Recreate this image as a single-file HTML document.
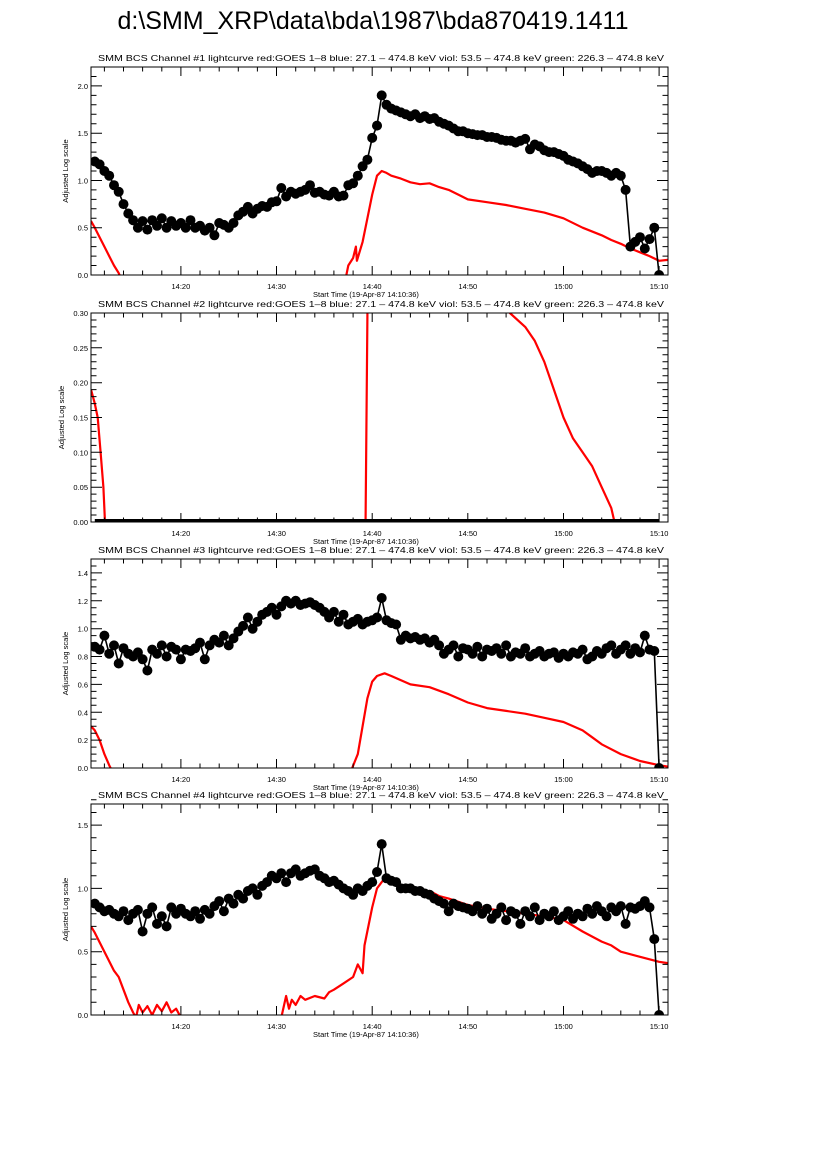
<!DOCTYPE html>
<html><head><meta charset="utf-8"><style>
html,body{margin:0;padding:0;background:#fff;}
svg{display:block;font-family:"Liberation Sans",sans-serif;}
</style></head><body>
<svg id="fig" width="826" height="1169" viewBox="0 0 826 1169">
<rect width="826" height="1169" fill="#fff"/>
<text x="373" y="29" font-size="25" text-anchor="middle">d:\SMM_XRP\data\bda\1987\bda870419.1411</text>
</svg>
<script>
// time in minutes after 14:00
const xTickLabels = ["14:20","14:30","14:40","14:50","15:00","15:10"];
const xTickTimes = [20,30,40,50,60,70];
const blackTimes = [11,11.5,12,12.5,13,13.5,14,14.5,15,15.5,16,16.5,17,17.5,18,18.5,19,19.5,20,20.5,21,21.5,22,22.5,23,23.5,24,24.5,25,25.5,26,26.5,27,27.5,28,28.5,29,29.5,30,30.5,31,31.5,32,32.5,33,33.5,34,34.5,35,35.5,36,36.5,37,37.5,38,38.5,39,39.5,40,40.5,41,41.5,42,42.5,43,43.5,44,44.5,45,45.5,46,46.5,47,47.5,48,48.5,49,49.5,50,50.5,51,51.5,52,52.5,53,53.5,54,54.5,55,55.5,56,56.5,57,57.5,58,58.5,59,59.5,60,60.5,61,61.5,62,62.5,63,63.5,64,64.5,65,65.5,66,66.5,67,67.5,68,68.5,69,69.5,70];
const black1 = [1.2,1.17,1.1,1.05,0.95,0.88,0.75,0.65,0.58,0.5,0.57,0.48,0.58,0.52,0.6,0.5,0.57,0.52,0.55,0.5,0.58,0.5,0.52,0.47,0.5,0.42,0.55,0.53,0.5,0.55,0.63,0.67,0.72,0.65,0.7,0.73,0.72,0.77,0.78,0.92,0.83,0.88,0.86,0.88,0.9,0.95,0.87,0.88,0.85,0.84,0.88,0.83,0.84,0.95,0.97,1.05,1.15,1.22,1.45,1.58,1.9,1.8,1.76,1.74,1.72,1.7,1.68,1.7,1.66,1.68,1.65,1.66,1.62,1.6,1.58,1.55,1.52,1.52,1.5,1.49,1.48,1.48,1.46,1.46,1.45,1.43,1.42,1.42,1.4,1.42,1.44,1.33,1.38,1.36,1.32,1.3,1.3,1.28,1.26,1.22,1.2,1.18,1.15,1.12,1.08,1.1,1.1,1.08,1.05,1.08,1.05,0.9,0.3,0.35,0.4,0.28,0.38,0.5,0.0];
const black2 = [0,0,0,0,0,0,0,0,0,0,0,0,0,0,0,0,0,0,0,0,0,0,0,0,0,0,0,0,0,0,0,0,0,0,0,0,0,0,0,0,0,0,0,0,0,0,0,0,0,0,0,0,0,0,0,0,0,0,0,0,0,0,0,0,0,0,0,0,0,0,0,0,0,0,0,0,0,0,0,0,0,0,0,0,0,0,0,0,0,0,0,0,0,0,0,0,0,0,0,0,0,0,0,0,0,0,0,0,0,0,0,0,0,0,0,0,0,0,0];
const black3 = [0.87,0.85,0.95,0.82,0.88,0.75,0.86,0.82,0.8,0.83,0.78,0.7,0.85,0.82,0.88,0.8,0.87,0.85,0.78,0.85,0.84,0.86,0.9,0.78,0.88,0.92,0.9,0.95,0.88,0.93,0.98,1.02,1.08,1.0,1.05,1.1,1.12,1.15,1.1,1.16,1.2,1.18,1.2,1.17,1.18,1.19,1.17,1.15,1.12,1.08,1.12,1.05,1.1,1.03,1.05,1.07,1.03,1.05,1.06,1.08,1.22,1.06,1.04,1.03,0.92,0.95,0.93,0.94,0.92,0.93,0.9,0.92,0.88,0.82,0.85,0.88,0.8,0.86,0.85,0.82,0.87,0.8,0.85,0.84,0.86,0.82,0.88,0.8,0.83,0.82,0.86,0.8,0.82,0.84,0.8,0.82,0.83,0.79,0.82,0.8,0.83,0.82,0.85,0.78,0.8,0.84,0.82,0.86,0.88,0.82,0.85,0.88,0.82,0.86,0.83,0.95,0.85,0.84,0.0];
const black4 = [0.88,0.85,0.82,0.83,0.8,0.78,0.82,0.75,0.8,0.83,0.66,0.8,0.85,0.72,0.78,0.7,0.85,0.8,0.84,0.8,0.78,0.82,0.76,0.83,0.8,0.86,0.9,0.82,0.92,0.88,0.95,0.92,0.98,1.0,0.95,1.02,1.05,1.1,1.08,1.12,1.05,1.12,1.15,1.1,1.12,1.14,1.15,1.1,1.08,1.05,1.06,1.03,1.0,0.98,0.95,1.0,0.98,1.02,1.05,1.13,1.35,1.08,1.06,1.05,1.0,1.0,1.0,0.98,0.98,0.96,0.95,0.92,0.9,0.88,0.82,0.88,0.86,0.85,0.84,0.82,0.86,0.8,0.84,0.76,0.8,0.85,0.75,0.82,0.8,0.72,0.82,0.78,0.85,0.75,0.8,0.78,0.82,0.75,0.78,0.82,0.76,0.8,0.78,0.84,0.8,0.86,0.82,0.78,0.85,0.82,0.86,0.72,0.85,0.84,0.86,0.9,0.85,0.6,0.0];
// GOES red curves (null = gap)
const red1T = [10.6,11,11.5,12,12.5,13,13.5,13.8,null,37.2,37.5,38,38.3,38.4,39,39.5,40,40.5,41,41.5,42,43,44,45,46,47,48,49,50,52,54,56,58,60,62,64,65,66,67,68,69,70,70.9];
const red1V = [0.57,0.5,0.4,0.3,0.2,0.1,0.02,-0.05,null,-0.05,0.1,0.18,0.3,0.15,0.35,0.6,0.85,1.05,1.1,1.08,1.05,1.02,0.98,0.96,0.97,0.93,0.9,0.85,0.8,0.77,0.74,0.7,0.66,0.6,0.5,0.42,0.37,0.33,0.28,0.24,0.2,0.15,0.16];
const red2T = [10.6,11,11.3,11.6,11.9,12.1,null,39.3,39.7,54.4,56,57,58,59,60,61,62,63,64,65,65.5];
const red2V = [0.19,0.17,0.15,0.1,0.05,-0.01,null,-0.01,0.6,0.3,0.28,0.26,0.23,0.19,0.15,0.12,0.1,0.08,0.05,0.02,-0.01];
const red3T = [10.6,11,11.5,12,12.5,12.8,null,37.8,38.2,38.5,39,39.5,40,40.5,41.3,42,44,46,48,50,52,54,56,58,60,62,63,64,66,68,70,70.9];
const red3V = [0.3,0.27,0.2,0.1,0.02,-0.02,null,-0.02,0.05,0.1,0.3,0.5,0.62,0.66,0.68,0.66,0.6,0.58,0.53,0.47,0.43,0.41,0.39,0.36,0.33,0.27,0.22,0.17,0.1,0.05,0.02,0.01];
const red4T = [10.6,11,12,13,13.5,14,14.5,15,15.3,15.6,16,16.5,17,17.5,18,18.5,19,19.5,20,null,30.5,31,31.3,31.6,32,32.5,33,34,35,35.5,36,37,38,38.5,39,39.2,40,40.5,41.3,42,43,44,45,46,47,48,50,52,54,56,58,60,62,64,65,66,68,70,70.9];
const red4V = [0.7,0.65,0.5,0.35,0.3,0.2,0.1,0.02,-0.02,0.08,0.02,0.07,0.0,0.08,0.03,0.1,0.02,0.05,-0.02,null,-0.02,0.15,0.05,0.12,0.08,0.15,0.12,0.15,0.13,0.18,0.2,0.25,0.3,0.4,0.33,0.55,0.85,1.0,1.08,1.06,1.02,0.98,0.97,0.98,0.94,0.92,0.87,0.84,0.82,0.8,0.78,0.75,0.66,0.58,0.55,0.5,0.46,0.42,0.41];

const NS="http://www.w3.org/2000/svg";
const svg=document.getElementById('fig');
const X0=91, X1=668, TMIN=10.6, TMAX=70.93;
function xs(t){return X0+(t-TMIN)*(X1-X0)/(TMAX-TMIN);}
function mk(tag,attrs,parent){const e=document.createElementNS(NS,tag);for(const k in attrs)e.setAttribute(k,attrs[k]);(parent||svg).appendChild(e);return e;}

const panels=[
 {n:1,top:67,bot:275,ymax:2.2,major:0.5,minor:0.1,dec:1,black:black1,rT:red1T,rV:red1V},
 {n:2,top:313,bot:522,ymax:0.30,major:0.05,minor:0.01,dec:2,black:black2,rT:red2T,rV:red2V},
 {n:3,top:559,bot:768,ymax:1.5,major:0.2,minor:0.05,dec:1,black:black3,rT:red3T,rV:red3V},
 {n:4,top:804,bot:1015,ymax:1.667,major:0.5,minor:0.1,dec:1,black:black4,rT:red4T,rV:red4V}
];
panels.forEach(p=>{
 const ys=v=>p.bot-v*(p.bot-p.top)/p.ymax;
 const g=mk('g',{});
 
 
 const title=mk('text',{x:98,y:p.top-6,'font-size':8.6,textLength:566,lengthAdjust:'spacingAndGlyphs'},g);
 
 
 title.textContent='SMM BCS Channel #'+p.n+' lightcurve  red:GOES 1\u20138  blue: 27.1 \u2013 474.8 keV  viol: 53.5 \u2013 474.8 keV  green: 226.3 \u2013 474.8 keV';
 const cid='clip'+p.n;
 const cp=mk('clipPath',{id:cid},g);mk('rect',{x:X0,y:p.top,width:X1-X0,height:p.bot-p.top},cp);
 const data=mk('g',{'clip-path':'url(#'+cid+')'},g);
 let d='',pen=false;
 p.rT.forEach((t,i)=>{if(t===null){pen=false;return;}d+=(pen?'L':'M')+xs(t).toFixed(1)+' '+ys(p.rV[i]).toFixed(1);pen=true;});
 const rl=mk('path',{d:d,fill:'none',stroke:'#ff0000','stroke-width':2.2,'stroke-linejoin':'round'},data);
 
 
 let bd='';
 blackTimes.forEach((t,i)=>{const v=p.black[i];if(v===undefined)return;bd+=(i?'L':'M')+xs(t).toFixed(1)+' '+ys(v).toFixed(1);});
 const bl=mk('path',{d:bd,fill:'none',stroke:'#000','stroke-width':p.n===2?6:1.6},data);
 
 
 if(p.n!==2){
  blackTimes.forEach((t,i)=>{const v=p.black[i];if(v===undefined)return;
   const c=mk('circle',{cx:xs(t).toFixed(1),cy:ys(v).toFixed(1),r:5,fill:'#000'},data);
   
   
  });
 }
 const box=mk('rect',{x:X0,y:p.top,width:X1-X0,height:p.bot-p.top,fill:'none',stroke:'#000','stroke-width':1},g);
 
 
 let td='';
 const nMin=Math.round(p.ymax/p.minor+1e-6);
 for(let k=0;k<=nMin;k++){const v=k*p.minor;const y=ys(v);
  const isMaj=Math.abs(v/p.major-Math.round(v/p.major))<1e-6;const L=isMaj?11:5.5;
  td+='M'+X0+' '+y.toFixed(1)+'h'+L+'M'+X1+' '+y.toFixed(1)+'h'+(-L);
  if(isMaj){const tl=mk('text',{x:X0-3,y:y+3,'font-size':7.5,'text-anchor':'end'},g);
   
   
   tl.textContent=v.toFixed(p.dec);}
 }
 for(let t=12;t<=70;t+=2){const x=xs(t);const isMaj=t%10===0;const L=isMaj?9:4.5;
  td+='M'+x.toFixed(1)+' '+p.bot+'v'+(-L)+'M'+x.toFixed(1)+' '+p.top+'v'+L;}
 const tk=mk('path',{d:td,stroke:'#000','stroke-width':1,fill:'none'},g);
 
 
 xTickTimes.forEach((t,i)=>{const tl=mk('text',{x:xs(t),y:p.bot+14,'font-size':7.5,'text-anchor':'middle'},g);
  
  
  tl.textContent=xTickLabels[i];});
 const xl=mk('text',{x:366,y:p.bot+22,'font-size':7.5,'text-anchor':'middle'},g);
 
 
 xl.textContent='Start Time (19-Apr-87 14:10:36)';
 const cy=(p.top+p.bot)/2;
 const yl=mk('text',{x:0,y:0,'font-size':7.5,'text-anchor':'middle',transform:'translate('+(p.n===2?64:68)+','+cy+') rotate(-90)'},g);
 
 
 yl.textContent='Adjusted Log scale';
});
</script>
</body></html>
